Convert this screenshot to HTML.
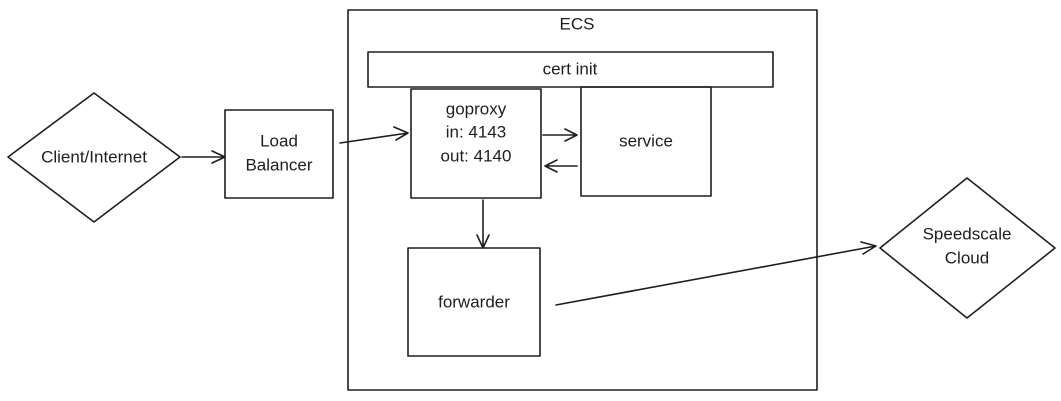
<!DOCTYPE html>
<html><head><meta charset="utf-8"><style>
html,body{margin:0;padding:0;background:#fff;}
svg{display:block;}
text{font-family:"Liberation Sans",sans-serif;font-size:17px;fill:#1e1e1e;text-anchor:middle;dominant-baseline:middle;}
</style></head><body>
<svg width="1061" height="401" viewBox="0 0 1061 401" xmlns="http://www.w3.org/2000/svg">
<g fill="none" stroke="#1e1e1e" stroke-width="1.6" stroke-linecap="round" stroke-linejoin="round">
<rect x="348" y="10" width="469" height="380"/>
<rect x="368" y="52" width="405" height="35"/>
<rect x="411" y="89" width="130" height="109"/>
<rect x="581" y="87" width="130" height="109"/>
<rect x="408" y="248" width="132" height="108"/>
<rect x="225" y="110" width="108" height="88"/>
<polygon points="94,93 180,157 94,222 8,157"/>
<polygon points="967,178 1055,248 967,318 880,248"/>
<path d="M182,157 L225,157 M212,151 L225,157 L212,163"/>
<path d="M340,143 L408,133 M394,127 L408,133 L396,140"/>
<path d="M543,135 L577,135 M565,129 L577,135 L565,141"/>
<path d="M577,166 L545,166 M557,160 L545,166 L557,172"/>
<path d="M483,200 L483,248 M477,235 L483,248 L489,235"/>
<path d="M556,305 L876,246 M861,242 L876,246 L863,254"/>
</g>
<text x="577" y="25">ECS</text>
<text x="570" y="70">cert init</text>
<text x="476" y="110">goproxy</text>
<text x="476" y="133">in: 4143</text>
<text x="476" y="157">out: 4140</text>
<text x="646" y="142">service</text>
<text x="474" y="303">forwarder</text>
<text x="279" y="142">Load</text>
<text x="279" y="166">Balancer</text>
<text x="94" y="158">Client/Internet</text>
<text x="967" y="235">Speedscale</text>
<text x="967" y="259">Cloud</text>
</svg>
</body></html>
